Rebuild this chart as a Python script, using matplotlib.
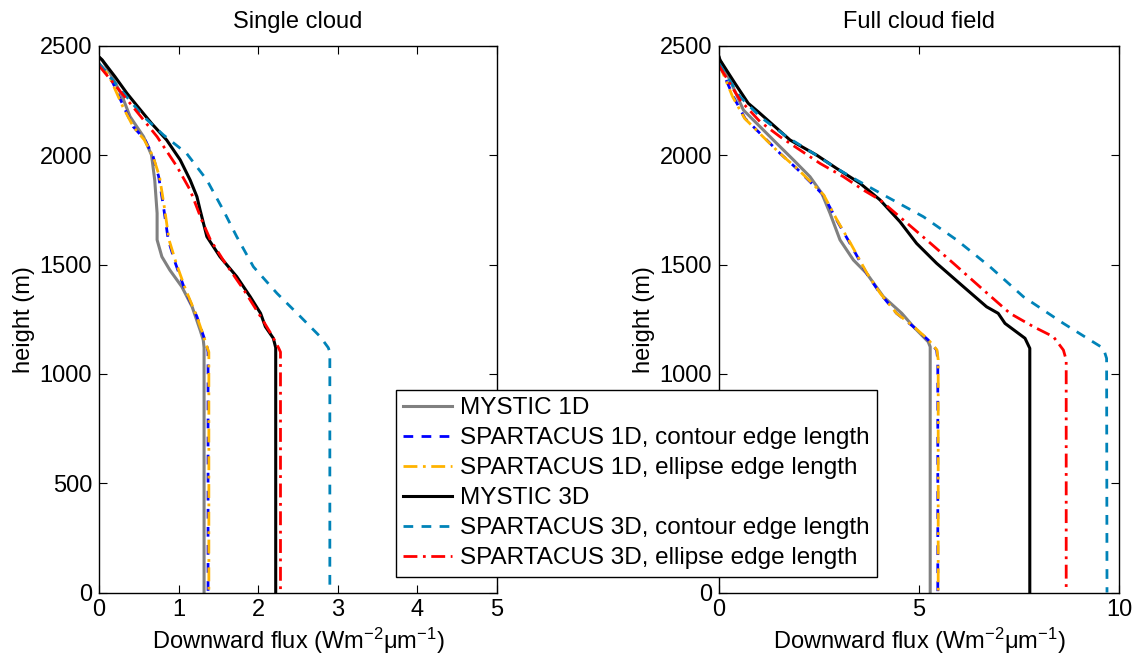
import matplotlib
matplotlib.use("Agg")
import matplotlib.pyplot as plt

plt.rcParams['font.family'] = ['Liberation Sans', 'DejaVu Sans']
plt.rcParams['mathtext.fontset'] = 'custom'
plt.rcParams['mathtext.rm'] = 'Liberation Sans'
plt.rcParams['mathtext.it'] = 'Liberation Sans'

# ---------------- data ----------------
titles = ["Single cloud", "Full cloud field"]
labels = ["MYSTIC 1D",
          "SPARTACUS 1D, contour edge length",
          "SPARTACUS 1D, ellipse edge length",
          "MYSTIC 3D",
          "SPARTACUS 3D, contour edge length",
          "SPARTACUS 3D, ellipse edge length"]

# Single cloud
m1d_single_x = [0.0, 0.04, 0.14, 0.285, 0.39, 0.56, 0.66, 0.70, 0.73, 0.73, 0.79, 0.89, 1.04, 1.17, 1.27, 1.31, 1.32, 1.32]
m1d_single_h = [2450, 2436, 2375, 2276, 2177, 2085, 2001, 1887, 1735, 1613, 1536, 1475, 1399, 1307, 1201, 1155, 1120, 0]
s1dc_single_x = [0.0, 0.14, 0.31, 0.43, 0.58, 0.68, 0.75, 0.81, 0.87, 0.96, 1.08, 1.23, 1.33, 1.36, 1.37, 1.37]
s1dc_single_h = [2420, 2360, 2222, 2131, 2070, 1994, 1902, 1765, 1613, 1506, 1384, 1262, 1155, 1120, 1100, 0]
s1de_single_x = [0.0, 0.13, 0.30, 0.43, 0.57, 0.68, 0.76, 0.82, 0.88, 0.97, 1.09, 1.23, 1.33, 1.36, 1.38, 1.38]
s1de_single_h = [2420, 2360, 2222, 2131, 2070, 1994, 1902, 1765, 1613, 1506, 1384, 1262, 1155, 1120, 1100, 0]
m3d_single_x = [0.0, 0.04, 0.20, 0.35, 0.47, 0.66, 0.85, 1.02, 1.145, 1.23, 1.27, 1.355, 1.52, 1.73, 1.90, 2.03, 2.09, 2.19, 2.22, 2.22]
m3d_single_h = [2450, 2436, 2360, 2284, 2230, 2146, 2070, 1979, 1887, 1811, 1750, 1628, 1536, 1445, 1353, 1277, 1216, 1163, 1120, 0]
s3dc_single_x = [0.0, 0.31, 0.56, 0.81, 1.10, 1.355, 1.56, 1.73, 1.94, 2.235, 2.53, 2.78, 2.88, 2.90, 2.90]
s3dc_single_h = [2420, 2284, 2177, 2093, 2009, 1887, 1750, 1628, 1490, 1369, 1262, 1170, 1120, 1100, 0]
s3de_single_x = [0.0, 0.39, 0.73, 0.98, 1.145, 1.29, 1.40, 1.56, 1.82, 2.03, 2.17, 2.255, 2.28, 2.28]
s3de_single_h = [2410, 2238, 2085, 1948, 1841, 1704, 1613, 1521, 1384, 1262, 1178, 1120, 1100, 0]

# Full cloud field
m1d_full_x = [0.0, 0.025, 0.275, 0.61, 1.025, 1.44, 1.86, 2.275, 2.57, 2.775, 3.025, 3.36, 3.69, 4.11, 4.57, 4.86, 5.23, 5.28, 5.28]
m1d_full_h = [2450, 2436, 2344, 2207, 2131, 2055, 1979, 1902, 1826, 1735, 1613, 1521, 1460, 1353, 1277, 1216, 1147, 1124, 0]
s1dc_full_x = [0.0, 0.36, 0.65, 1.11, 1.525, 1.94, 2.275, 2.61, 2.94, 3.275, 3.69, 4.025, 4.44, 4.86, 5.23, 5.44, 5.47, 5.47]
s1dc_full_h = [2420, 2268, 2169, 2085, 2009, 1940, 1879, 1818, 1704, 1597, 1460, 1369, 1277, 1216, 1155, 1109, 1064, 0]
s1de_full_x = [0.0, 0.34, 0.64, 1.10, 1.52, 1.95, 2.29, 2.62, 2.95, 3.29, 3.70, 4.03, 4.44, 4.87, 5.24, 5.45, 5.48, 5.48]
s1de_full_h = [2420, 2268, 2169, 2085, 2009, 1940, 1879, 1818, 1704, 1597, 1460, 1369, 1277, 1216, 1155, 1109, 1064, 0]
m3d_full_x = [0.0, 0.025, 0.40, 0.73, 0.98, 1.775, 2.44, 2.94, 3.525, 4.025, 4.525, 4.94, 5.44, 6.11, 6.69, 6.98, 7.15, 7.65, 7.77, 7.77]
m3d_full_h = [2450, 2436, 2329, 2238, 2199, 2070, 2001, 1940, 1872, 1796, 1696, 1597, 1506, 1399, 1307, 1277, 1231, 1163, 1117, 0]
s3dc_full_x = [0.0, 0.525, 1.025, 1.69, 2.36, 2.94, 3.44, 4.19, 5.11, 5.94, 6.775, 7.61, 8.61, 9.275, 9.61, 9.69, 9.70]
s3dc_full_h = [2420, 2268, 2177, 2085, 2009, 1940, 1887, 1811, 1719, 1613, 1490, 1353, 1231, 1155, 1117, 1071, 0]
s3de_full_x = [0.0, 0.525, 1.025, 1.525, 2.025, 2.525, 3.11, 3.61, 4.025, 4.61, 5.19, 5.86, 6.61, 7.275, 7.86, 8.36, 8.61, 8.68, 8.68]
s3de_full_h = [2410, 2253, 2154, 2085, 2024, 1963, 1902, 1841, 1796, 1704, 1613, 1506, 1384, 1277, 1216, 1170, 1109, 1064, 0]

xticks_single = [0, 1, 2, 3, 4, 5]
xticks_full = [0, 5, 10]
yticks = [0, 500, 1000, 1500, 2000, 2500]

# ---------------- styles ----------------
styles = [
    dict(color='#808080', ls='-', lw=2.2),
    dict(color='#0000ff', ls=(0, (3.5, 3)), lw=2.0),
    dict(color='#ffb300', ls=(0, (5, 2, 1, 2)), lw=2.0),
    dict(color='#000000', ls='-', lw=2.2),
    dict(color='#0083b8', ls=(0, (3.5, 3)), lw=2.0),
    dict(color='#ff0000', ls=(0, (5, 2, 1, 2)), lw=2.0),
]

single = [(m1d_single_x, m1d_single_h), (s1dc_single_x, s1dc_single_h),
          (s1de_single_x, s1de_single_h), (m3d_single_x, m3d_single_h),
          (s3dc_single_x, s3dc_single_h), (s3de_single_x, s3de_single_h)]
full = [(m1d_full_x, m1d_full_h), (s1dc_full_x, s1dc_full_h),
        (s1de_full_x, s1de_full_h), (m3d_full_x, m3d_full_h),
        (s3dc_full_x, s3dc_full_h), (s3de_full_x, s3de_full_h)]

FS = 17
W, H = 1135, 659
fig = plt.figure(figsize=(W / 100, H / 100), dpi=100)
ax1 = fig.add_axes([99 / W, 1 - 592.5 / H, 398 / W, 546.5 / H])
ax2 = fig.add_axes([719 / W, 1 - 592.5 / H, 400 / W, 546.5 / H])

handles = []
for ax, data, title, xt in [(ax1, single, titles[0], xticks_single),
                             (ax2, full, titles[1], xticks_full)]:
    hs = []
    for (x, h), st, lab in zip(data, styles, labels):
        ln, = ax.plot(x, h, label=lab, **st)
        hs.append(ln)
    handles = hs
    ax.set_xlim(xt[0], xt[-1])
    ax.set_ylim(0, 2500)
    ax.set_xticks(xt)
    ax.set_yticks(yticks)
    ax.tick_params(direction='in', top=True, right=True, length=6,
                   width=0.8, labelsize=FS, pad=5)
    ax.set_title(title, fontsize=FS, pad=13)
    ax.set_ylabel('height (m)', fontsize=FS, labelpad=3)
    ax.set_xlabel(r'Downward flux (Wm$^{-2}$$\mu$m$^{-1}$)', fontsize=FS, labelpad=3)
    for s in ax.spines.values():
        s.set_linewidth(1.0)

leg = fig.legend(handles=handles, labels=labels, loc='upper left',
                 bbox_to_anchor=(396 / W, 1 - 390 / H), fontsize=17.5,
                 frameon=True, fancybox=False, framealpha=1, edgecolor='black',
                 handlelength=2.0, handletextpad=0.35, borderpad=0.3,
                 labelspacing=0.33, borderaxespad=0)
leg.get_frame().set_linewidth(1.0)

fig.savefig('out.png', dpi=100)
